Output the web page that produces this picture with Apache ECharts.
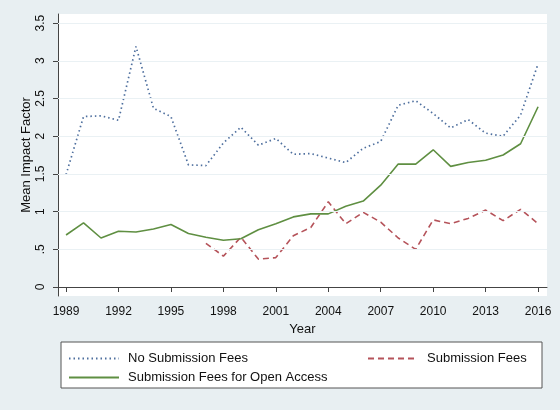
<!DOCTYPE html>
<html>
<head>
<meta charset="utf-8">
<title>Mean Impact Factor</title>
<script src="https://cdn.jsdelivr.net/npm/echarts@6/dist/echarts.min.js"></script>
<style>
	* {
		margin: 0;
		padding: 0;
		box-sizing: border-box;
	}

	body {
		background: #e8eff2;
	}

	#myChart {
		width: 560px;
		height: 410px;
	}
</style>
</head>
<body>
<div id="myChart"></div>
<script>
	// 年份
	var years = [1989, 1990, 1991, 1992, 1993, 1994, 1995, 1996, 1997, 1998, 1999, 2000, 2001, 2002,
		2003, 2004, 2005, 2006, 2007, 2008, 2009, 2010, 2011, 2012, 2013, 2014, 2015, 2016];
	// No Submission Fees
	var noFees = [1.49, 2.26, 2.27, 2.21, 3.19, 2.37, 2.26, 1.62, 1.61, 1.91, 2.12, 1.88, 1.97, 1.76,
		1.77, 1.71, 1.65, 1.84, 1.93, 2.41, 2.47, 2.30, 2.11, 2.22, 2.04, 2.00, 2.28, 2.96];
	// Submission Fees (from 1997)
	var subFees = [null, null, null, null, null, null, null, null, 0.58, 0.41, 0.66, 0.37, 0.39, 0.68,
		0.79, 1.13, 0.84, 0.99, 0.86, 0.65, 0.50, 0.89, 0.84, 0.91, 1.02, 0.88, 1.03, 0.84];
	// Submission Fees for Open Access
	var oaFees = [0.69, 0.85, 0.65, 0.74, 0.73, 0.77, 0.83, 0.71, 0.66, 0.62, 0.64, 0.76, 0.84, 0.93,
		0.97, 0.97, 1.07, 1.14, 1.35, 1.63, 1.63, 1.82, 1.60, 1.65, 1.68, 1.75, 1.90, 2.39];

	var xTicks = [1989, 1992, 1995, 1998, 2001, 2004, 2007, 2010, 2013, 2016];
	var yTicks = [0, 0.5, 1, 1.5, 2, 2.5, 3, 3.5];

	function pairs(arr) {
		var out = [];
		for (var i = 0; i < years.length; i++) {
			out.push([years[i], arr[i]]);
		}
		return out;
	}

	var font = 'Liberation Sans, Arial, sans-serif';
	var myChart = echarts.init(document.getElementById('myChart'));

	var options = {
		backgroundColor: '#e8eff2',
		animation: false,
		grid: {
			left: 58,
			right: 13,
			top: 14,
			bottom: 114,
			show: true,
			backgroundColor: '#fff',
			borderWidth: 0
		},
		xAxis: {
			type: 'value',
			min: 1988.54,
			max: 2016.51,
			name: 'Year',
			nameLocation: 'middle',
			nameMoveOverlap: false,
			nameGap: 27,
			nameTextStyle: {
				color: '#111',
				fontSize: 13,
				fontFamily: font
			},
			axisLine: {
				show: true,
				lineStyle: { color: '#444', width: 1 }
			},
			axisTick: {
				show: true,
				length: 5,
				customValues: xTicks,
				lineStyle: { color: '#444' }
			},
			axisLabel: {
				customValues: xTicks,
				margin: 10,
				color: '#111',
				fontSize: 12,
				fontFamily: font,
				formatter: function (v) {
					return String(v);
				}
			},
			splitLine: { show: false }
		},
		yAxis: {
			type: 'value',
			min: -0.119,
			max: 3.62,
			name: 'Mean Impact Factor',
			nameLocation: 'middle',
			nameMoveOverlap: false,
			nameGap: 25,
			nameTextStyle: {
				color: '#111',
				fontSize: 13,
				fontFamily: font
			},
			axisLine: {
				show: true,
				lineStyle: { color: '#444', width: 1 }
			},
			axisTick: {
				show: true,
				length: 5,
				customValues: yTicks,
				lineStyle: { color: '#444' }
			},
			axisLabel: {
				customValues: yTicks,
				rotate: 90,
				margin: 11,
				color: '#111',
				fontSize: 12,
				fontFamily: font,
				formatter: function (v) {
					return v == 0.5 ? '.5' : String(v);
				}
			},
			splitLine: { show: false }
		},
		legend: [{
			orient: 'vertical',
			left: 68,
			top: 352,
			padding: 0,
			itemWidth: 50,
			itemHeight: 12,
			itemGap: 6,
			itemStyle: { opacity: 0 },
			data: ['No Submission Fees', 'Submission Fees for Open Access'],
			textStyle: {
				color: '#111',
				fontSize: 13,
				fontFamily: font,
				padding: [0, 0, 0, 4]
			}
		}, {
			orient: 'vertical',
			left: 367,
			top: 352,
			padding: 0,
			itemWidth: 50,
			itemHeight: 12,
			itemStyle: { opacity: 0 },
			data: ['Submission Fees'],
			textStyle: {
				color: '#111',
				fontSize: 13,
				fontFamily: font,
				padding: [0, 0, 0, 4]
			}
		}],
		graphic: [{
			type: 'rect',
			z: -1,
			shape: { x: 61, y: 342, width: 481, height: 46 },
			style: { fill: '#fff', stroke: '#555', lineWidth: 1 }
		}],
		series: [{
			name: 'No Submission Fees',
			type: 'line',
			data: pairs(noFees),
			symbol: 'none',
			lineStyle: { color: '#4e6f9e', width: 1.7, type: [1.5, 3] },
			itemStyle: { color: '#4e6f9e' },
			// 网格线
			markLine: {
				silent: true,
				symbol: 'none',
				label: { show: false },
				lineStyle: { color: '#eaf1f4', width: 1.2, type: 'solid' },
				data: yTicks.slice(1).map(function (v) { return { yAxis: v }; })
			},
			z: 3
		}, {
			name: 'Submission Fees',
			type: 'line',
			data: pairs(subFees),
			symbol: 'none',
			lineStyle: { color: '#b5535a', width: 1.6, type: [6, 4] },
			itemStyle: { color: '#b5535a' },
			z: 3
		}, {
			name: 'Submission Fees for Open Access',
			type: 'line',
			data: pairs(oaFees),
			symbol: 'none',
			lineStyle: { color: '#5f8f42', width: 1.6 },
			itemStyle: { color: '#5f8f42' },
			z: 3
		}]
	};
	myChart.setOption(options);
</script>
</body>
</html>
